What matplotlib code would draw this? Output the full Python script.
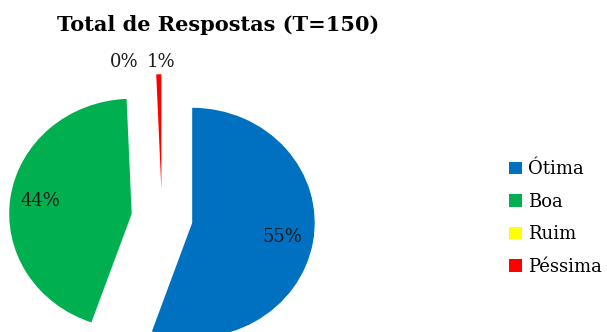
import numpy as np
import matplotlib
matplotlib.use("Agg")
import matplotlib.pyplot as plt

categories = ["Ótima", "Boa", "Ruim", "Péssima"]
counts = [83, 66, 0, 1]
colors = ["#0070C0", "#00B050", "#FFFF00", "#FF0000"]
title = "Total de Respostas (T=150)"

plt.rcParams["font.family"] = ["DejaVu Serif"]

fig = plt.figure(figsize=(6.07, 3.32), dpi=100)
ax = fig.add_axes([0, 0, 1, 1])

wedges, texts, autotexts = ax.pie(
    counts, colors=colors, startangle=90, counterclock=False,
    explode=[0.25] * len(counts), autopct="%1.0f%%", pctdistance=0.75,
    wedgeprops=dict(linewidth=0), textprops=dict(fontsize=13, color="#1a1a1a"),
)

# small slices: move labels outside, above the pie
total = sum(counts)
small = [i for i, c in enumerate(counts) if c / total < 0.02]
for i in small:
    w = wedges[i]
    ang = np.deg2rad((w.theta1 + w.theta2) / 2)
    autotexts[i].set_position((1.36 * np.cos(ang), 1.36 * np.sin(ang)))
# keep the two labels side by side
if len(small) == 2:
    x0, y0 = autotexts[small[1]].get_position()
    autotexts[small[0]].set_position((x0 - 0.16, y0))
    autotexts[small[0]].set_ha("right")
    autotexts[small[1]].set_ha("left")
    autotexts[small[1]].set_position((x0 - 0.1, y0))

ax.set_aspect("auto")
ax.set_xlim(-162 / 122.5, (607 - 162) / 122.5)
ax.set_ylim(-114 / 115, 218 / 115)
ax.axis("off")

fig.text(0.36, 0.925, title, ha="center", va="center", fontsize=15, fontweight="bold")

fig.legend(wedges, categories, loc="center left", bbox_to_anchor=(0.812, 0.343),
           frameon=False, fontsize=13, handlelength=0.7, handleheight=0.7,
           handletextpad=0.35, labelspacing=0.8)

fig.savefig("out.png", dpi=100)
